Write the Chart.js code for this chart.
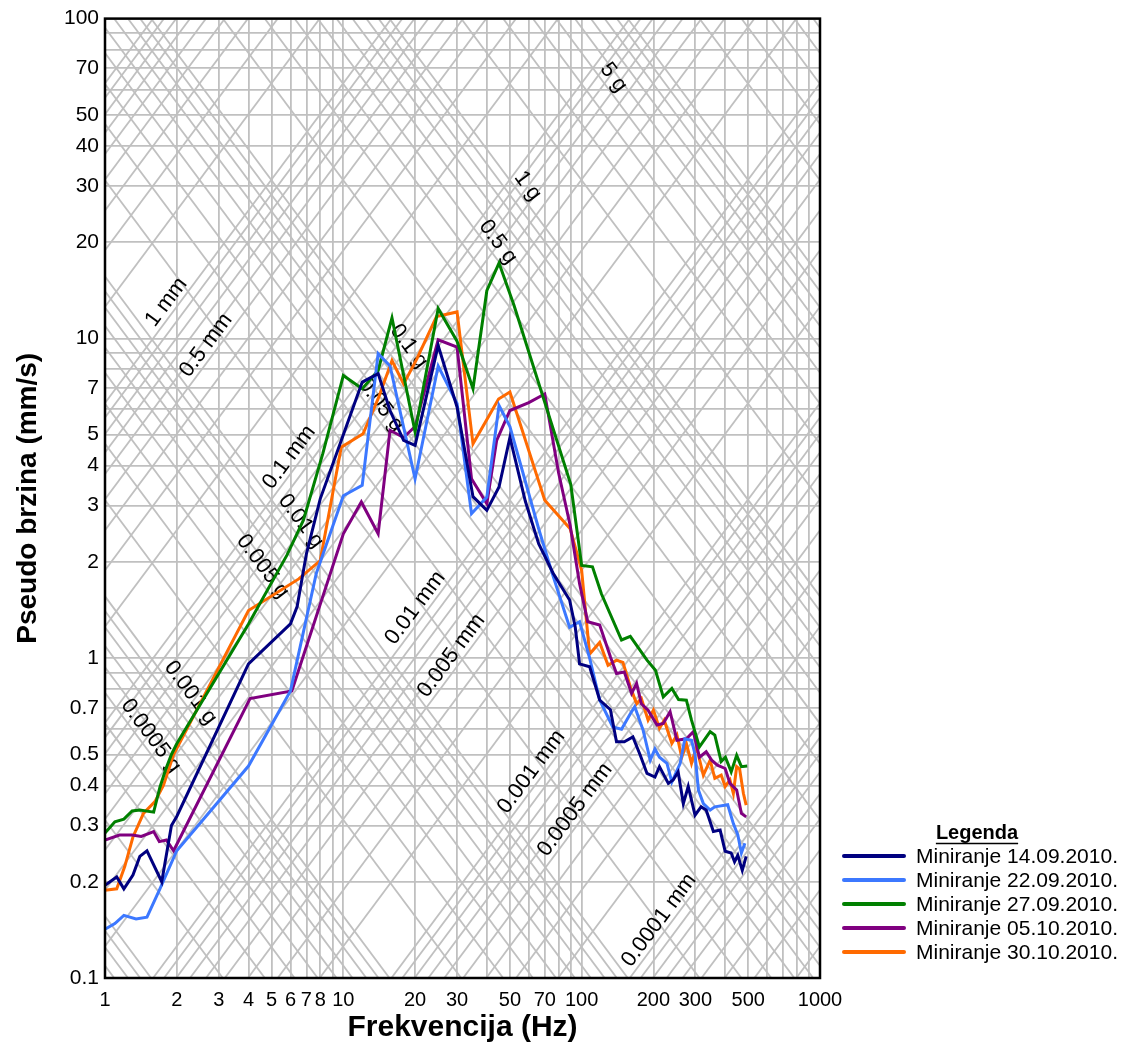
<!DOCTYPE html>
<html>
<head>
<meta charset="utf-8">
<title>Pseudo brzina - miniranje 2010</title>
<script src="https://cdn.jsdelivr.net/npm/chart.js@4.4.0/dist/chart.umd.min.js"></script>
<style>
  html, body { margin: 0; padding: 0; background: #fff; }
</style>
</head>
<body>
<canvas id="spectrumChart" width="1122" height="1047"></canvas>
<script>
// pseudo velocity spectra (mm/s) against frequency (Hz), one pair of arrays per blast
const freq1409 = [1, 1.12, 1.2, 1.31, 1.4, 1.5, 1.73, 1.9, 2, 4, 6, 6.4, 7, 8, 10, 12, 14, 15.7, 17.9, 20, 25, 30, 35, 40, 45, 50, 58, 66, 76, 89, 94, 98, 108, 119, 132, 140, 151, 164, 176, 188, 203, 212, 231, 242, 254, 267, 280, 299, 317, 333, 357, 381, 400, 424, 438, 452, 472, 490];
const vel1409 = [0.195, 0.207, 0.19, 0.21, 0.24, 0.25, 0.2, 0.3, 0.32, 0.96, 1.28, 1.45, 2.12, 3.15, 5.0, 7.3, 7.76, 5.95, 4.8, 4.63, 9.5, 6.1, 3.2, 2.9, 3.43, 4.9, 3.1, 2.28, 1.84, 1.52, 1.25, 0.96, 0.94, 0.74, 0.69, 0.548, 0.548, 0.567, 0.498, 0.436, 0.425, 0.458, 0.406, 0.416, 0.441, 0.351, 0.397, 0.323, 0.343, 0.335, 0.287, 0.29, 0.249, 0.246, 0.231, 0.242, 0.217, 0.24];

const freq2209 = [1, 1.1, 1.2, 1.35, 1.5, 1.7, 2, 4, 6, 7.7, 10, 12, 14, 15.7, 20, 25, 30, 34.5, 40, 45, 50, 66, 76, 89, 98, 108, 119, 135, 147, 160, 167, 181, 194, 203, 212, 228, 239, 259, 271, 289, 299, 309, 324, 346, 362, 410, 433, 452, 468, 484];
const vel2209 = [0.142, 0.148, 0.157, 0.153, 0.155, 0.19, 0.25, 0.46, 0.79, 1.84, 3.22, 3.47, 8.96, 8.2, 3.64, 8.2, 6.26, 2.83, 3.19, 6.17, 5.3, 2.54, 1.8, 1.25, 1.3, 1.0, 0.74, 0.61, 0.6, 0.67, 0.705, 0.596, 0.48, 0.52, 0.49, 0.469, 0.41, 0.469, 0.56, 0.554, 0.5, 0.387, 0.351, 0.335, 0.343, 0.348, 0.304, 0.28, 0.246, 0.264];

const freq2709 = [1, 1.1, 1.2, 1.3, 1.4, 1.6, 1.7, 1.8, 1.9, 2, 4, 5.8, 6.8, 8.2, 10, 12, 14, 16, 20, 25, 30, 35, 40, 45, 52, 90, 100, 111, 121, 147, 160, 188, 204, 220, 239, 255, 275, 289, 312, 346, 362, 385, 401, 424, 447, 468, 495];
const vel2709 = [0.284, 0.308, 0.314, 0.333, 0.335, 0.33, 0.395, 0.45, 0.5, 0.54, 1.28, 2.1, 2.7, 4.36, 7.66, 6.96, 7.94, 11.6, 5.1, 12.4, 9.8, 6.96, 14.1, 17.2, 12.7, 3.5, 1.95, 1.93, 1.59, 1.14, 1.17, 0.986, 0.917, 0.757, 0.804, 0.743, 0.739, 0.64, 0.528, 0.589, 0.575, 0.475, 0.49, 0.441, 0.497, 0.458, 0.46];

const freq0510 = [1, 1.15, 1.3, 1.42, 1.6, 1.69, 1.81, 1.94, 4.06, 6.08, 10, 11.9, 14, 15.7, 17.9, 20, 25, 30, 34.5, 40, 44, 50, 60, 70, 80, 89.5, 98, 106, 119, 132, 140, 151, 162, 170, 178, 190, 207, 220, 235, 251, 275, 294, 312, 333, 351, 371, 400, 419, 447, 468, 490];
const vel0510 = [0.27, 0.28, 0.28, 0.277, 0.287, 0.267, 0.27, 0.25, 0.748, 0.79, 2.45, 3.08, 2.45, 5.16, 4.9, 5.3, 9.9, 9.4, 3.64, 3.04, 4.8, 5.95, 6.3, 6.7, 3.8, 2.6, 1.71, 1.3, 1.27, 1.01, 0.896, 0.906, 0.776, 0.834, 0.72, 0.688, 0.618, 0.625, 0.68, 0.554, 0.56, 0.589, 0.49, 0.51, 0.48, 0.463, 0.452, 0.406, 0.387, 0.327, 0.319];

const freq3010 = [1, 1.12, 1.21, 1.31, 1.45, 1.62, 1.76, 1.94, 4, 6.5, 8, 9.8, 12.1, 14, 16, 17.9, 20.3, 24.6, 30, 35, 44.8, 50, 70, 89.5, 100, 108, 119, 129, 140, 149, 160, 170, 178, 190, 200, 212, 222, 239, 251, 263, 275, 289, 303, 324, 346, 362, 385, 400, 419, 433, 447, 460, 477, 490];
const vel3010 = [0.188, 0.19, 0.223, 0.276, 0.327, 0.356, 0.401, 0.5, 1.41, 1.77, 2.02, 4.57, 5.03, 6.48, 8.53, 7.2, 8.6, 11.7, 12.1, 4.68, 6.46, 6.8, 3.12, 2.54, 1.88, 1.03, 1.12, 0.95, 0.986, 0.97, 0.814, 0.72, 0.748, 0.64, 0.688, 0.603, 0.64, 0.541, 0.575, 0.49, 0.541, 0.469, 0.528, 0.431, 0.48, 0.421, 0.431, 0.397, 0.416, 0.378, 0.458, 0.45, 0.378, 0.347];

const seriesNames = ['Miniranje 14.09.2010.', 'Miniranje 22.09.2010.', 'Miniranje 27.09.2010.', 'Miniranje 05.10.2010.', 'Miniranje 30.10.2010.'];
const seriesColors = ['#000080', '#3C78FF', '#008000', '#800080', '#FF6A00'];

// tick labels shown on the axes (grid lines go on every 1..9 step)
const xTickLabels = [1, 2, 3, 4, 5, 6, 7, 8, 10, 20, 30, 50, 70, 100, 200, 300, 500, 1000];
const yTickLabels = [0.1, 0.2, 0.3, 0.4, 0.5, 0.7, 1, 2, 3, 4, 5, 7, 10, 20, 30, 40, 50, 70, 100];

// labelled displacement (mm) and acceleration (g) lines, f = frequency where the text sits
const dispLabels = [
    { text: '1 mm', d: 1, f: 1.97 },
    { text: '0.5 mm', d: 0.5, f: 2.89 },
    { text: '0.1 mm', d: 0.1, f: 6.45 },
    { text: '0.01 mm', d: 0.01, f: 21.8 },
    { text: '0.005 mm', d: 0.005, f: 30.9 },
    { text: '0.001 mm', d: 0.001, f: 67 },
    { text: '0.0005 mm', d: 0.0005, f: 102 },
    { text: '0.0001 mm', d: 0.0001, f: 230 }
];
const accLabels = [
    { text: '5 g', a: 5, f: 125 },
    { text: '1 g', a: 1, f: 54.6 },
    { text: '0.5 g', a: 0.5, f: 40.9 },
    { text: '0.1 g', a: 0.1, f: 17.3 },
    { text: '0.05 g', a: 0.05, f: 13.2 },
    { text: '0.01 g', a: 0.01, f: 6.1 },
    { text: '0.005 g', a: 0.005, f: 4.22 },
    { text: '0.001 g', a: 0.001, f: 2.1 },
    { text: '0.0005 g', a: 0.0005, f: 1.43 }
];

const G = 9806.65; // mm/s2
const gridColor = '#C0C0C0';
const gridWidth = 1.8;
const fontFamily = '"Liberation Sans", Arial, sans-serif';

function logSteps(minExp, maxExp) {
    const vals = [];
    for (let e = minExp; e < maxExp; e++) {
        for (let m = 1; m <= 9; m++) {
            vals.push(+(m * Math.pow(10, e)).toPrecision(3));
        }
    }
    vals.push(Math.pow(10, maxExp));
    return vals;
}

const xGrid = logSteps(0, 3);
const yGrid = logSteps(-1, 2);
const dispLines = logSteps(-5, 2);   // mm
const accLines = logSteps(-5, 2);    // g

function hasLabel(list, value) {
    return list.some(l => Math.abs(l - value) / l < 1e-6);
}

const freqs = [freq1409, freq2209, freq2709, freq0510, freq3010];
const vels = [vel1409, vel2209, vel2709, vel0510, vel3010];

const datasets = seriesNames.map((name, i) => ({
    label: name,
    data: freqs[i].map((f, j) => ({ x: f, y: vels[i][j] })),
    borderColor: seriesColors[i],
    backgroundColor: seriesColors[i],
    borderWidth: 3,
    pointRadius: 0,
    tension: 0,
    fill: false
}));

// diagonal displacement / acceleration grid with its labels
const tripartitePlugin = {
    id: 'tripartite',
    beforeDatasetsDraw(chart) {
        const { ctx, chartArea, scales: { x, y } } = chart;
        ctx.save();
        ctx.beginPath();
        ctx.rect(chartArea.left, chartArea.top, chartArea.right - chartArea.left, chartArea.bottom - chartArea.top);
        ctx.clip();
        ctx.strokeStyle = gridColor;
        ctx.lineWidth = gridWidth;
        const fA = 0.5, fB = 2000;
        dispLines.forEach(d => {
            ctx.beginPath();
            ctx.moveTo(x.getPixelForValue(fA), y.getPixelForValue(2 * Math.PI * fA * d));
            ctx.lineTo(x.getPixelForValue(fB), y.getPixelForValue(2 * Math.PI * fB * d));
            ctx.stroke();
        });
        accLines.forEach(a => {
            ctx.beginPath();
            ctx.moveTo(x.getPixelForValue(fA), y.getPixelForValue(a * G / (2 * Math.PI * fA)));
            ctx.lineTo(x.getPixelForValue(fB), y.getPixelForValue(a * G / (2 * Math.PI * fB)));
            ctx.stroke();
        });

        ctx.fillStyle = '#000';
        ctx.font = '22px ' + fontFamily;
        ctx.textAlign = 'center';
        ctx.textBaseline = 'bottom';
        const drawLabel = (text, f, vAt) => {
            const px = x.getPixelForValue(f), py = y.getPixelForValue(vAt(f));
            const qx = x.getPixelForValue(f * 10), qy = y.getPixelForValue(vAt(f * 10));
            ctx.save();
            ctx.translate(px, py);
            ctx.rotate(Math.atan2(qy - py, qx - px));
            ctx.fillText(text, 0, 0);
            ctx.restore();
        };
        dispLabels.forEach(l => drawLabel(l.text, l.f, f => 2 * Math.PI * f * l.d));
        accLabels.forEach(l => drawLabel(l.text, l.f, f => l.a * G / (2 * Math.PI * f)));
        ctx.restore();
    },
    afterDatasetsDraw(chart) {
        const { ctx, chartArea } = chart;
        ctx.save();
        ctx.strokeStyle = '#000';
        ctx.lineWidth = 2.5;
        ctx.strokeRect(chartArea.left, chartArea.top, chartArea.right - chartArea.left, chartArea.bottom - chartArea.top);
        ctx.restore();
    }
};

// legend in the lower right corner, under an underlined title
const legendPlugin = {
    id: 'sideLegend',
    afterDraw(chart) {
        const { ctx, chartArea } = chart;
        const left = chartArea.right + 24;
        ctx.save();
        ctx.fillStyle = '#000';
        ctx.font = 'bold 20px ' + fontFamily;
        ctx.textAlign = 'center';
        ctx.textBaseline = 'middle';
        const titleX = left + 133;
        ctx.fillText('Legenda', titleX, 833);
        const tw = ctx.measureText('Legenda').width;
        ctx.strokeStyle = '#000';
        ctx.lineWidth = 1.5;
        ctx.beginPath();
        ctx.moveTo(titleX - tw / 2, 843.5);
        ctx.lineTo(titleX + tw / 2, 843.5);
        ctx.stroke();

        ctx.font = '21px ' + fontFamily;
        ctx.textAlign = 'left';
        ctx.lineCap = 'round';
        chart.data.datasets.forEach((ds, i) => {
            const cy = 856 + i * 24;
            ctx.strokeStyle = ds.borderColor;
            ctx.lineWidth = 4;
            ctx.beginPath();
            ctx.moveTo(left, cy);
            ctx.lineTo(left + 60, cy);
            ctx.stroke();
            ctx.fillText(ds.label, left + 72, cy + 1);
        });
        ctx.restore();
    }
};

const ctx = document.getElementById('spectrumChart').getContext('2d');
const spectrumChart = new Chart(ctx, {
    type: 'line',
    data: { datasets: datasets },
    options: {
        responsive: false,
        animation: false,
        layout: { padding: { top: 18, right: 302, bottom: 0, left: 0 } },
        plugins: {
            legend: { display: false },
            tooltip: { enabled: false }
        },
        scales: {
            x: {
                type: 'logarithmic',
                min: 1,
                max: 1000,
                afterBuildTicks: scale => { scale.ticks = xGrid.map(v => ({ value: v })); },
                afterFit: scale => { scale.height = 69; },
                grid: { color: gridColor, lineWidth: gridWidth, drawTicks: false },
                border: { display: false },
                ticks: {
                    autoSkip: false,
                    maxRotation: 0,
                    padding: 10,
                    color: '#000',
                    font: { family: fontFamily, size: 20 },
                    callback: value => hasLabel(xTickLabels, value) ? String(value) : ''
                },
                title: {
                    display: true,
                    text: 'Frekvencija (Hz)',
                    color: '#000',
                    font: { family: fontFamily, size: 30, weight: 'bold' },
                    padding: { top: 0, bottom: 1 }
                }
            },
            y: {
                type: 'logarithmic',
                min: 0.1,
                max: 100,
                afterBuildTicks: scale => { scale.ticks = yGrid.map(v => ({ value: v })); },
                afterFit: scale => { scale.width = 105; },
                grid: { color: gridColor, lineWidth: gridWidth, drawTicks: false },
                border: { display: false },
                ticks: {
                    autoSkip: false,
                    padding: 6,
                    color: '#000',
                    font: { family: fontFamily, size: 21 },
                    callback: value => hasLabel(yTickLabels, value) ? String(value) : ''
                },
                title: {
                    display: true,
                    text: 'Pseudo brzina (mm/s)',
                    color: '#000',
                    font: { family: fontFamily, size: 28, weight: 'bold' },
                    padding: { top: 11, bottom: 0 }
                }
            }
        }
    },
    plugins: [tripartitePlugin, legendPlugin]
});
</script>
</body>
</html>
